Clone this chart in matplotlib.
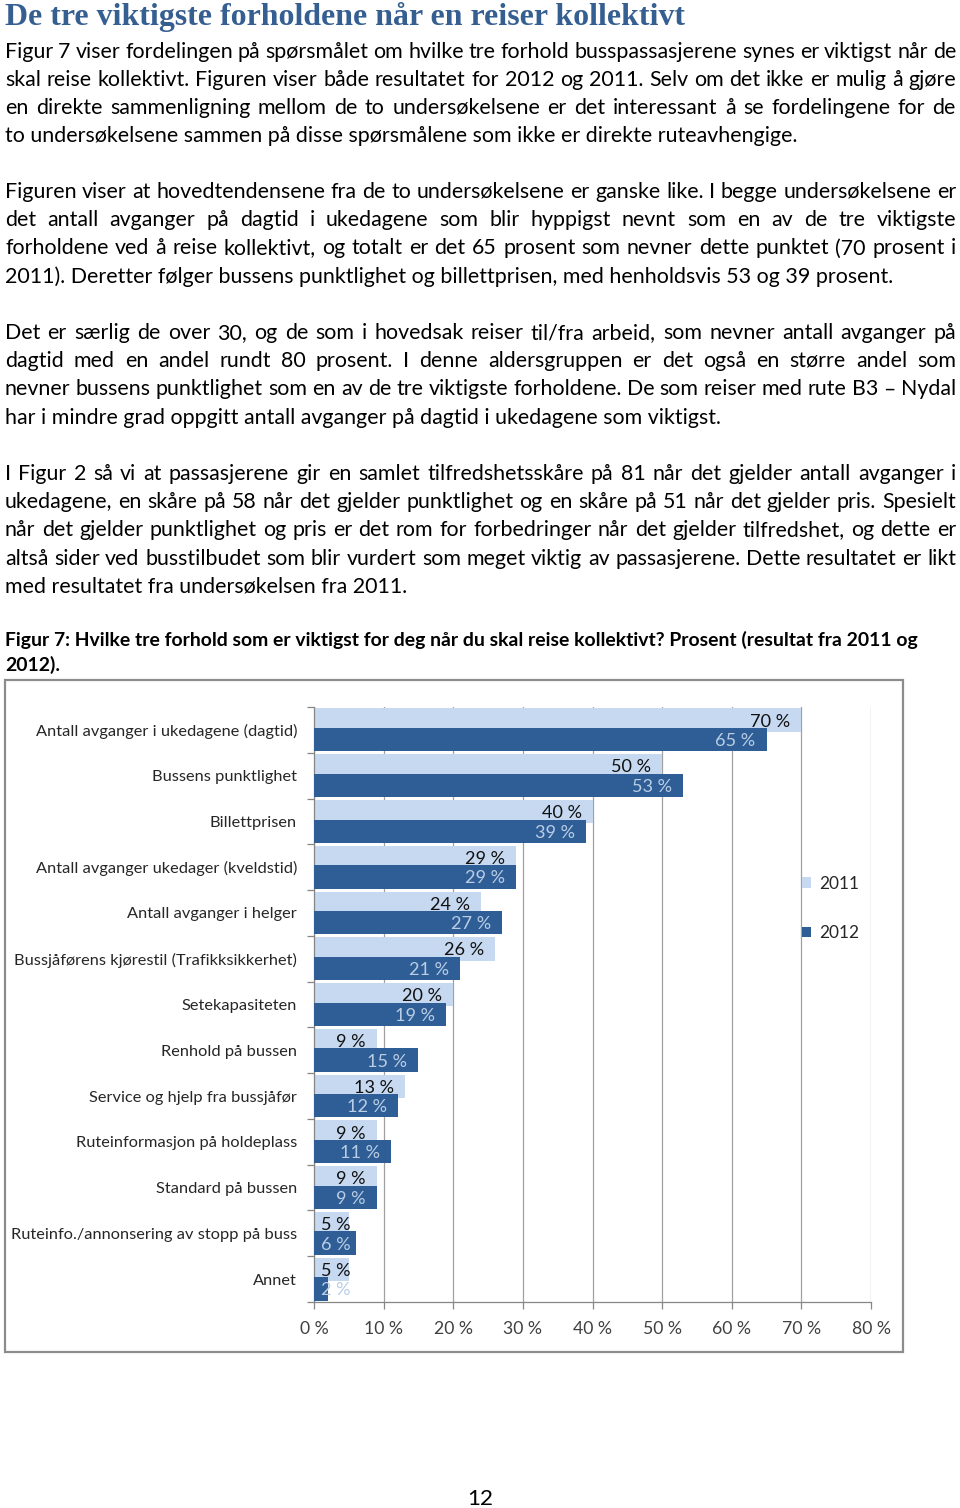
import matplotlib
matplotlib.use("Agg")
import matplotlib.pyplot as plt
from matplotlib.patches import Rectangle
import numpy as np

# ---------------- data ----------------
categories = [
    "Antall avganger i ukedagene (dagtid)",
    "Bussens punktlighet",
    "Billettprisen",
    "Antall avganger ukedager (kveldstid)",
    "Antall avganger i helger",
    "Bussjåførens kjørestil (Trafikksikkerhet)",
    "Setekapasiteten",
    "Renhold på bussen",
    "Service og hjelp fra bussjåfør",
    "Ruteinformasjon på holdeplass",
    "Standard på bussen",
    "Ruteinfo./annonsering av stopp på buss",
    "Annet",
]
v2011 = [70, 50, 40, 29, 24, 26, 20, 9, 13, 9, 9, 5, 5]
v2012 = [65, 53, 39, 29, 27, 21, 19, 15, 12, 11, 9, 6, 2]
series_names = ["2011", "2012"]
xticks = [0, 10, 20, 30, 40, 50, 60, 70, 80]
xticklabels = ["0 %", "10 %", "20 %", "30 %", "40 %", "50 %", "60 %", "70 %", "80 %"]

title = "De tre viktigste forholdene når en reiser kollektivt"
paragraphs = [
    ["Figur 7 viser fordelingen på spørsmålet om hvilke tre forhold busspassasjerene synes er viktigst når de",
     "skal reise kollektivt. Figuren viser både resultatet for 2012 og 2011. Selv om det ikke er mulig å gjøre",
     "en direkte sammenligning mellom de to undersøkelsene er det interessant å se fordelingene for de",
     "to undersøkelsene sammen på disse spørsmålene som ikke er direkte ruteavhengige."],
    ["Figuren viser at hovedtendensene fra de to undersøkelsene er ganske like. I begge undersøkelsene er",
     "det antall avganger på dagtid i ukedagene som blir hyppigst nevnt som en av de tre viktigste",
     "forholdene ved å reise kollektivt, og totalt er det 65 prosent som nevner dette punktet (70 prosent i",
     "2011). Deretter følger bussens punktlighet og billettprisen, med henholdsvis 53 og 39 prosent."],
    ["Det er særlig de over 30, og de som i hovedsak reiser til/fra arbeid, som nevner antall avganger på",
     "dagtid med en andel rundt 80 prosent. I denne aldersgruppen er det også en større andel som",
     "nevner bussens punktlighet som en av de tre viktigste forholdene. De som reiser med rute B3 – Nydal",
     "har i mindre grad oppgitt antall avganger på dagtid i ukedagene som viktigst."],
    ["I Figur 2 så vi at passasjerene gir en samlet tilfredshetsskåre på 81 når det gjelder antall avganger i",
     "ukedagene, en skåre på 58 når det gjelder punktlighet og en skåre på 51 når det gjelder pris. Spesielt",
     "når det gjelder punktlighet og pris er det rom for forbedringer når det gjelder tilfredshet, og dette er",
     "altså sider ved busstilbudet som blir vurdert som meget viktig av passasjerene. Dette resultatet er likt",
     "med resultatet fra undersøkelsen fra 2011."],
]
caption = ["Figur 7: Hvilke tre forhold som er viktigst for deg når du skal reise kollektivt? Prosent (resultat fra 2011 og",
           "2012)."]
page_number = "12"

# ---------------- layout helpers ----------------
W, H = 960, 1508
fig = plt.figure(figsize=(W / 100, H / 100), dpi=100)
fig.patch.set_facecolor("white")
renderer = fig.canvas.get_renderer()

def fx(x):
    return x / W

def fy(y):
    return 1 - y / H

def measure(s, size, **kw):
    t = fig.text(0, 0, s, fontsize=size, **kw)
    w = t.get_window_extent(renderer).width
    t.remove()
    return w

BODY = dict(family="Lato", color="black")
targets = [(paragraphs[0][3], 795), (paragraphs[2][3], 716), (paragraphs[3][4], 400)]
body_size = np.mean([10 * tw / measure(s, 10, **BODY) for s, tw in targets])

L, R = 5, 956

def draw_line(text, y_base, size, justify, **kw):
    if not justify:
        fig.text(fx(L), fy(y_base), text, fontsize=size, va="baseline", ha="left", **kw)
        return
    words = text.split(" ")
    widths = [measure(w, size, **kw) for w in words]
    gap = (R - L - sum(widths)) / (len(words) - 1)
    x = L
    for w, wd in zip(words, widths):
        fig.text(fx(x), fy(y_base), w, fontsize=size, va="baseline", ha="left", **kw)
        x += wd + gap

# title
TITLE = dict(family="Liberation Serif", weight="bold", color="#365F91")
tsize = 10 * 681 / measure(title, 10, **TITLE)
fig.text(fx(5), fy(25), title, fontsize=tsize, va="baseline", ha="left", **TITLE)

# paragraphs
para_starts = [57.5, 198, 339, 480]
lh = 28.2
for p, y0 in zip(paragraphs, para_starts):
    for i, line in enumerate(p):
        draw_line(line, y0 + i * lh, body_size, i < len(p) - 1, **BODY)

# caption
CAP = dict(family="Lato", weight="bold", color="black")
csize = 10 * 917 / measure(caption[0], 10, **CAP)
fig.text(fx(5), fy(646), caption[0], fontsize=csize, va="baseline", ha="left", **CAP)
fig.text(fx(5), fy(671), caption[1], fontsize=csize, va="baseline", ha="left", **CAP)

# page number
fig.text(fx(480), fy(1505), page_number, fontsize=body_size * 1.05, va="baseline", ha="center", **BODY)

# chart frame
fig.patches.append(Rectangle((fx(5), fy(1352)), fx(903) - fx(5), fy(680) - fy(1352),
                             transform=fig.transFigure, fill=False, edgecolor="#8c8c8c", lw=1.6))

# ---------------- chart ----------------
ax = fig.add_axes([fx(314), fy(1302), fx(871) - fx(314), fy(707) - fy(1302)])
n = len(categories)
y = np.arange(n)
light, dark = "#c6d9f1", "#2f5e96"
bh, off = 0.51, 0.213
b1 = ax.barh(y - off, v2011, height=bh, color=light, label=series_names[0], zorder=2)
b2 = ax.barh(y + off, v2012, height=bh, color=dark, label=series_names[1], zorder=3)

ax.set_xlim(0, 80)
ax.set_ylim(n - 0.5, -0.5)
ax.set_axisbelow(True)
ax.grid(axis="x", color="#a0a0a0", lw=0.9)
ax.set_xticks(xticks)
ax.set_xticklabels(xticklabels)
ax.set_yticks(np.arange(n + 1) - 0.5)
ax.set_yticklabels([])
ax.set_yticks(y, minor=True)
ax.set_yticklabels(categories, minor=True)
ax.tick_params(axis="y", which="major", length=5, color="#868686", width=0.9)
ax.tick_params(axis="y", which="minor", length=0, pad=12.2)
ax.tick_params(axis="x", length=5, color="#868686", width=0.9, pad=9)
for s in ["top", "right"]:
    ax.spines[s].set_visible(False)
for s in ["left", "bottom"]:
    ax.spines[s].set_color("#868686")
    ax.spines[s].set_linewidth(0.9)

CH = dict(family="Lato")
cat_size = 10 * 284 / measure(categories[5], 10, **CH)
for t in ax.get_yticklabels(minor=True):
    t.set_fontsize(cat_size)
    t.set_family("Lato")
    t.set_color("#262626")
lab_size = 10 * 40 / measure("70 %", 10, **CH)
for t in ax.get_xticklabels():
    t.set_fontsize(lab_size * 0.97)
    t.set_family("Lato")
    t.set_color("#404040")

px_per_unit = (871 - 314) / 80.0

def bar_label(v, yy, color):
    s = f"{v} %"
    w = measure(s, lab_size, **CH)
    if v * px_per_unit - 11 < 7 + w:
        ax.annotate(s, (0, yy), xytext=(7, 0), textcoords="offset pixels",
                    ha="left", va="center_baseline", fontsize=lab_size, color=color, zorder=5, **CH)
    else:
        ax.annotate(s, (v, yy), xytext=(-11, 0), textcoords="offset pixels",
                    ha="right", va="center_baseline", fontsize=lab_size, color=color, zorder=5, **CH)

for i in range(n):
    bar_label(v2011[i], y[i] - off, "#111111")
    bar_label(v2012[i], y[i] + off, "#b9cde5")

# legend
leg = ax.legend(handles=[b1, b2], loc="upper left", bbox_to_anchor=(fx(786), fy(860)),
                bbox_transform=fig.transFigure, frameon=False, handlelength=0.55,
                handleheight=0.55, handletextpad=0.45, labelspacing=1.95,
                prop=dict(family="Lato", size=lab_size * 0.95))
for t in leg.get_texts():
    t.set_color("#262626")

fig.savefig("out.png", dpi=100)
